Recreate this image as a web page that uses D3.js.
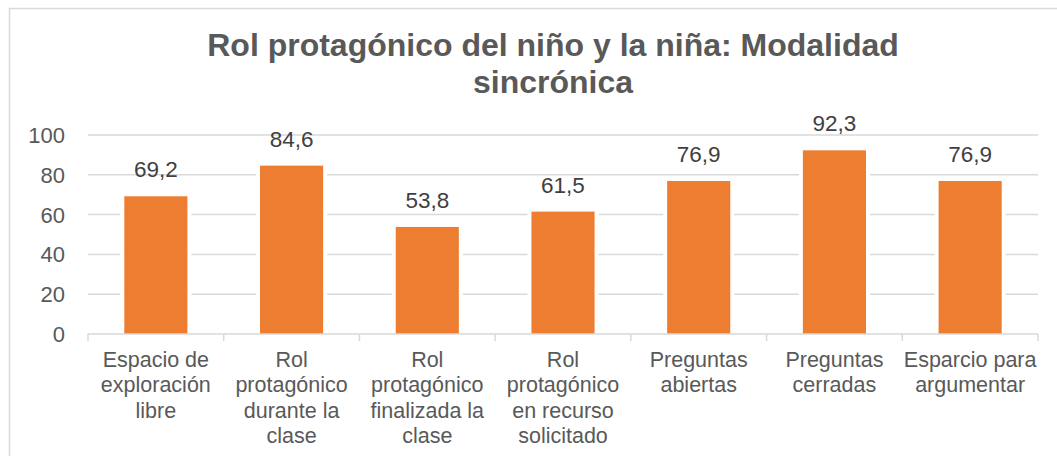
<!DOCTYPE html>
<html>
<head>
<meta charset="utf-8">
<script src="https://cdn.jsdelivr.net/npm/d3@7"></script>
<style>
  body { margin: 0; background: #fff; }
  text { font-family: Arial, "Liberation Sans", sans-serif; }
</style>
</head>
<body>
<div id="chart"></div>
<script>
// chart data
const titleLines = ["Rol protagónico del niño y la niña: Modalidad", "sincrónica"];
const categories = [
  "Espacio de exploración libre",
  "Rol protagónico durante la clase",
  "Rol protagónico finalizada la clase",
  "Rol protagónico en recurso solicitado",
  "Preguntas abiertas",
  "Preguntas cerradas",
  "Esparcio para argumentar"
];
const values = [69.2, 84.6, 53.8, 61.5, 76.9, 92.3, 76.9];
const yTicks = [0, 20, 40, 60, 80, 100];

const W = 1057, H = 456;
const plot = {left: 88, right: 1038, top: 135, bottom: 334};

const svg = d3.select("#chart").append("svg")
  .attr("width", W).attr("height", H);

// outer chart border (only top and left visible in the crop)
svg.append("rect")
  .attr("x", 9.5).attr("y", 8.5)
  .attr("width", W + 20).attr("height", H + 20)
  .attr("fill", "none").attr("stroke", "#d9d9d9").attr("stroke-width", 1.5);

// title
svg.append("g").selectAll("text")
  .data(titleLines)
  .join("text")
    .attr("x", 553)
    .attr("y", (d, i) => 56 + i * 37)
    .attr("text-anchor", "middle")
    .attr("font-size", "32px")
    .attr("font-weight", "bold")
    .attr("fill", "#595959")
    .text(d => d);

const x = d3.scaleBand()
  .domain(categories)
  .range([plot.left, plot.right])
  .paddingInner(0.535)
  .paddingOuter(0.2675);

const y = d3.scaleLinear()
  .domain([0, 100])
  .range([plot.bottom, plot.top]);

// gridlines
svg.append("g").selectAll("line")
  .data(yTicks.filter(t => t > 0))
  .join("line")
    .attr("x1", plot.left).attr("x2", plot.right)
    .attr("y1", d => y(d)).attr("y2", d => y(d))
    .attr("stroke", "#d9d9d9").attr("stroke-width", 1.5);

// y tick labels
svg.append("g").selectAll("text")
  .data(yTicks)
  .join("text")
    .attr("x", 65)
    .attr("y", d => y(d))
    .attr("dy", "0.36em")
    .attr("text-anchor", "end")
    .attr("font-size", "22px")
    .attr("fill", "#595959")
    .text(d => d);

// white halo behind bars (gridlines break around them)
svg.append("g").selectAll("rect")
  .data(values)
  .join("rect")
    .attr("x", (d, i) => x(categories[i]) - 4)
    .attr("y", d => y(d))
    .attr("width", x.bandwidth() + 8)
    .attr("height", d => y(0) - y(d) - 1)
    .attr("fill", "#fff");

// bars
svg.append("g").selectAll("rect")
  .data(values)
  .join("rect")
    .attr("x", (d, i) => x(categories[i]))
    .attr("y", d => y(d))
    .attr("width", x.bandwidth())
    .attr("height", d => y(0) - y(d))
    .attr("fill", "#ED7D31");

// x axis line + tick marks at band boundaries
svg.append("line")
  .attr("x1", plot.left).attr("x2", plot.right)
  .attr("y1", y(0)).attr("y2", y(0))
  .attr("stroke", "#d9d9d9").attr("stroke-width", 1.5);

svg.append("g").selectAll("line")
  .data(d3.range(categories.length + 1))
  .join("line")
    .attr("x1", i => plot.left + i * x.step())
    .attr("x2", i => plot.left + i * x.step())
    .attr("y1", y(0)).attr("y2", y(0) + 7)
    .attr("stroke", "#d9d9d9").attr("stroke-width", 1.5);

// value labels
svg.append("g").selectAll("text")
  .data(values)
  .join("text")
    .attr("x", (d, i) => x(categories[i]) + x.bandwidth() / 2)
    .attr("y", d => y(d) - 19)
    .attr("text-anchor", "middle")
    .attr("font-size", "22.5px")
    .attr("fill", "#404040")
    .text(d => d.toFixed(1).replace(".", ","));

// category labels, wrapped to the band width
const catG = svg.append("g").selectAll("text")
  .data(categories)
  .join("text")
    .attr("x", d => x(d) + x.bandwidth() / 2)
    .attr("y", 367)
    .attr("text-anchor", "middle")
    .attr("font-size", "21.5px")
    .attr("fill", "#595959");

catG.each(function(d) {
  const t = d3.select(this);
  const cx = x(d) + x.bandwidth() / 2;
  const words = d.split(" ");
  let lines = [], cur = [];
  const probe = t.append("tspan");
  words.forEach(w => {
    const test = cur.concat(w).join(" ");
    probe.text(test);
    if (cur.length && probe.node().getComputedTextLength() > 136) {
      lines.push(cur.join(" "));
      cur = [w];
    } else {
      cur.push(w);
    }
  });
  lines.push(cur.join(" "));
  probe.remove();
  lines.forEach((l, i) => {
    t.append("tspan")
      .attr("x", cx)
      .attr("dy", i === 0 ? 0 : 25.3)
      .text(l);
  });
});
</script>
</body>
</html>
